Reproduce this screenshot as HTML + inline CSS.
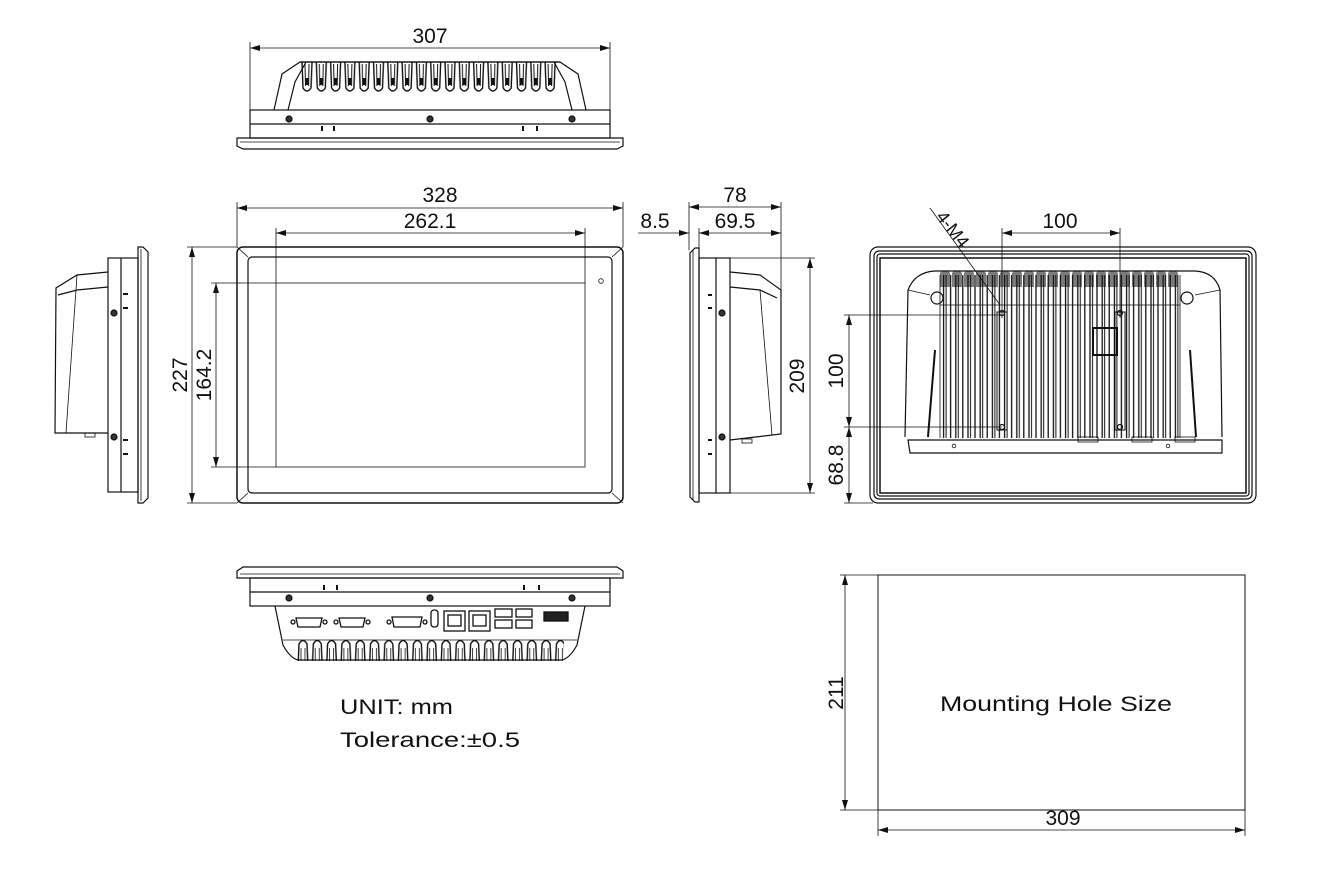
<!DOCTYPE html>
<html><head><meta charset="utf-8"><style>
html,body{margin:0;padding:0;background:#fff}
svg{display:block}
text{font-family:"Liberation Sans",sans-serif;fill:#111}
</style></head><body>
<svg width="1328" height="873" viewBox="0 0 1328 873" xmlns="http://www.w3.org/2000/svg">
<defs>
<marker id="a" viewBox="0 0 10 6" refX="10" refY="3" markerWidth="10" markerHeight="6" orient="auto-start-reverse" markerUnits="userSpaceOnUse"><path d="M0,0L10,3L0,6z" fill="#111"/></marker>
<pattern id="finT" x="300" y="62" width="14.3" height="40" patternUnits="userSpaceOnUse">
<path d="M2,0 L3,26 Q7,32 11,26 L12,0" fill="none" stroke="#111" stroke-width="1.4"/>
<path d="M5,2 L5.5,24 M9,2 L8.5,24" stroke="#111" stroke-width="1"/>
<rect x="5" y="16" width="4" height="7" fill="#111"/>
</pattern>
<pattern id="finB" x="296" y="628" width="14.3" height="40" patternUnits="userSpaceOnUse">
<path d="M2,40 L3,16 Q7,9 11,16 L12,40" fill="none" stroke="#111" stroke-width="1.4"/>
<path d="M5,20 L5,40 M9,20 L9,40" stroke="#111" stroke-width="0.8"/>
</pattern>
<pattern id="finR" x="905" y="0" width="12.2" height="10" patternUnits="userSpaceOnUse">
<line x1="2" y1="0" x2="2" y2="10" stroke="#111" stroke-width="1.3"/>
<line x1="4.5" y1="0" x2="4.5" y2="10" stroke="#111" stroke-width="1"/>
<line x1="9" y1="0" x2="9" y2="10" stroke="#111" stroke-width="1.3"/>
</pattern>
</defs>
<g fill="none" stroke="#111" stroke-width="1.2">
<!-- TOP VIEW -->
<line x1="250" y1="48" x2="610" y2="48" stroke-width="0.8" marker-start="url(#a)" marker-end="url(#a)"/>
<line x1="250" y1="42" x2="250" y2="110" stroke-width="0.8"/>
<line x1="610" y1="42" x2="610" y2="110" stroke-width="0.8"/>
<path d="M237,138 L623,138 L623,146 L617,149 L243,149 L237,146 Z"/>
<line x1="240" y1="142" x2="620" y2="142" stroke-width="0.8"/>
<rect x="250" y="110" width="360" height="28"/>
<line x1="250" y1="124" x2="610" y2="124"/>
<path d="M274,110 L282,74 L300,62 L560,62 L578,74 L586,110"/>
<path d="M288,110 L295,82 L306,62 M572,110 L565,82 L554,62"/>
<rect x="300" y="62" width="258" height="32" fill="url(#finT)" stroke="none"/>
<line x1="300" y1="62" x2="560" y2="62"/>
<g fill="#333"><circle cx="289" cy="119" r="3"/><circle cx="430" cy="119" r="3"/><circle cx="572" cy="119" r="3"/></g>
<path d="M322,126v5M334,126v5M523,126v5M537,126v5" stroke-width="2"/>

<!-- FRONT VIEW -->
<line x1="237" y1="208" x2="623" y2="208" stroke-width="0.8" marker-start="url(#a)" marker-end="url(#a)"/>
<line x1="237" y1="202" x2="237" y2="247" stroke-width="0.8"/>
<line x1="623" y1="202" x2="623" y2="247" stroke-width="0.8"/>
<line x1="276" y1="233" x2="585" y2="233" stroke-width="0.8" marker-start="url(#a)" marker-end="url(#a)"/>
<line x1="276" y1="228" x2="276" y2="283" stroke-width="0.8"/>
<line x1="585" y1="228" x2="585" y2="283" stroke-width="0.8"/>
<line x1="192" y1="247" x2="192" y2="503" stroke-width="0.8" marker-start="url(#a)" marker-end="url(#a)"/>
<line x1="187" y1="247" x2="237" y2="247" stroke-width="0.8"/>
<line x1="187" y1="503" x2="237" y2="503" stroke-width="0.8"/>
<line x1="216" y1="283" x2="216" y2="467" stroke-width="0.8" marker-start="url(#a)" marker-end="url(#a)"/>
<line x1="211" y1="283" x2="276" y2="283" stroke-width="0.8"/>
<line x1="211" y1="467" x2="276" y2="467" stroke-width="0.8"/>
<rect x="237" y="247" width="386" height="256" rx="6" stroke-width="1.5"/>
<rect x="248" y="257" width="364" height="236" rx="4"/>
<path d="M237,247L248,257M623,247L612,257M237,503L248,493M623,503L612,493" stroke-width="0.8"/>
<rect x="276" y="283" width="309" height="184" stroke-width="0.8"/>
<circle cx="601" cy="281" r="2.3" stroke-width="0.8"/>

<!-- LEFT SIDE VIEW -->
<path d="M138,247 L143,247 L148,252 L148,498 L143,503 L138,503 Z"/>
<line x1="141" y1="249" x2="141" y2="501" stroke-width="0.8"/>
<rect x="108" y="258" width="30" height="234"/>
<line x1="121" y1="258" x2="121" y2="492"/>
<path d="M108,272 L77,275 L56,288 L55,433 L108,433"/>
<path d="M108,287 L77,290 L58,295"/>
<line x1="77" y1="275" x2="66" y2="433" stroke-width="0.8"/>
<path d="M123,294h5M123,308h5M123,440h5M123,454h5" stroke-width="2"/>
<circle cx="114" cy="313" r="3" fill="#333"/><circle cx="114" cy="437" r="3" fill="#333"/>
<rect x="85" y="433" width="10" height="4" stroke-width="0.8"/>

<!-- RIGHT SIDE VIEW -->
<line x1="689" y1="207" x2="781" y2="207" stroke-width="0.8" marker-start="url(#a)" marker-end="url(#a)"/>
<line x1="689" y1="202" x2="689" y2="250" stroke-width="0.8"/>
<line x1="781" y1="202" x2="781" y2="295" stroke-width="0.8"/>
<line x1="699" y1="233" x2="781" y2="233" stroke-width="0.8" marker-start="url(#a)" marker-end="url(#a)"/>
<line x1="699" y1="228" x2="699" y2="250" stroke-width="0.8"/>
<line x1="638" y1="233" x2="689" y2="233" stroke-width="0.8" marker-end="url(#a)"/>
<line x1="810" y1="258" x2="810" y2="493" stroke-width="0.8" marker-start="url(#a)" marker-end="url(#a)"/>
<line x1="730" y1="258" x2="815" y2="258" stroke-width="0.8"/>
<line x1="730" y1="493" x2="815" y2="493" stroke-width="0.8"/>
<path d="M699,248 L695,248 L690,253 L690,497 L695,502 L699,502 Z"/>
<line x1="693" y1="250" x2="693" y2="500" stroke-width="0.8"/>
<rect x="699" y="258" width="31" height="235"/>
<line x1="716" y1="258" x2="716" y2="493"/>
<path d="M730,272 L760,275 L781,290 L781,434 L730,440"/>
<path d="M730,287 L760,290 L777,298"/>
<line x1="760" y1="290" x2="772" y2="435" stroke-width="0.8"/>
<path d="M708,295h4M708,308h4M708,440h4M708,454h4" stroke-width="2"/>
<circle cx="722" cy="313" r="3" fill="#333"/><circle cx="722" cy="437" r="3" fill="#333"/>
<rect x="742" y="439" width="10" height="4" stroke-width="0.8"/>

<!-- BACK VIEW -->
<rect x="870" y="247" width="386" height="256" rx="8"/>
<rect x="874" y="251" width="378" height="248" rx="5"/>
<rect x="877" y="254" width="372" height="242" rx="3"/>
<rect x="880" y="258" width="366" height="235" stroke-width="1.5"/>
<path d="M905,437 L908,290 Q915,272 935,271 L1195,271 Q1215,272 1220,290 L1222,437"/>
<path d="M908,440 L1222,440 L1222,453 L910,453 Z"/>
<rect x="940" y="275" width="240" height="163" fill="url(#finR)" stroke="none"/>
<path d="M940,275v163M1180,275v163M940,305h240" stroke-width="0.8"/>
<g fill="#111" stroke="none">
<path d="M940,273 l2,-2 h6 l2,2 v14 h-10z M952,273 l2,-2 h6 l2,2 v14 h-10z M964,273 l2,-2 h6 l2,2 v14 h-10z M976,273 l2,-2 h6 l2,2 v14 h-10z M988,273 l2,-2 h6 l2,2 v14 h-10z M1000,273 l2,-2 h6 l2,2 v14 h-10z M1012,273 l2,-2 h6 l2,2 v14 h-10z M1024,273 l2,-2 h6 l2,2 v14 h-10z M1036,273 l2,-2 h6 l2,2 v14 h-10z M1048,273 l2,-2 h6 l2,2 v14 h-10z M1060,273 l2,-2 h6 l2,2 v14 h-10z M1072,273 l2,-2 h6 l2,2 v14 h-10z M1084,273 l2,-2 h6 l2,2 v14 h-10z M1096,273 l2,-2 h6 l2,2 v14 h-10z M1108,273 l2,-2 h6 l2,2 v14 h-10z M1120,273 l2,-2 h6 l2,2 v14 h-10z M1132,273 l2,-2 h6 l2,2 v14 h-10z M1144,273 l2,-2 h6 l2,2 v14 h-10z M1156,273 l2,-2 h6 l2,2 v14 h-10z M1168,273 l2,-2 h6 l2,2 v14 h-10z" opacity="0.55"/>
</g>
<circle cx="937" cy="298" r="6"/><circle cx="1187" cy="298" r="6"/>
<path d="M908,290L930,295M1220,290L1195,295" stroke-width="0.8"/>
<path d="M935,350 L928,437 M1190,350 L1196,437" stroke-width="2"/>
<rect x="997" y="312" width="10" height="118" stroke-width="1"/>
<rect x="1115" y="312" width="10" height="118" stroke-width="1"/>
<rect x="1093" y="328" width="24" height="27" stroke-width="2"/>
<circle cx="1002" cy="313" r="2.5"/><circle cx="1120" cy="313" r="2.5"/>
<circle cx="1002" cy="427" r="2.5"/><circle cx="1120" cy="427" r="2.5"/>
<circle cx="954" cy="446" r="1.8" stroke-width="0.8"/><circle cx="1168" cy="446" r="1.8" stroke-width="0.8"/>
<rect x="1078" y="437" width="20" height="5" stroke-width="0.8"/>
<rect x="1132" y="437" width="20" height="5" stroke-width="0.8"/>
<rect x="1175" y="437" width="20" height="5" stroke-width="0.8"/>
<line x1="1002" y1="233" x2="1120" y2="233" stroke-width="0.8" marker-start="url(#a)" marker-end="url(#a)"/>
<line x1="1002" y1="228" x2="1002" y2="318" stroke-width="0.8"/>
<line x1="1120" y1="228" x2="1120" y2="318" stroke-width="0.8"/>
<line x1="849" y1="315" x2="849" y2="427" stroke-width="0.8" marker-start="url(#a)" marker-end="url(#a)"/>
<line x1="849" y1="427" x2="849" y2="503" stroke-width="0.8" marker-start="url(#a)" marker-end="url(#a)"/>
<line x1="844" y1="315" x2="1002" y2="315" stroke-width="0.8"/>
<line x1="844" y1="427" x2="1002" y2="427" stroke-width="0.8"/>
<line x1="844" y1="503" x2="873" y2="503" stroke-width="0.8"/>
<line x1="930" y1="208" x2="1000" y2="305" stroke-width="0.8"/>

<!-- BOTTOM VIEW -->
<path d="M237,578 L623,578 L623,571 L617,567 L243,567 L237,571 Z"/>
<line x1="240" y1="574" x2="620" y2="574" stroke-width="0.8"/>
<rect x="250" y="578" width="360" height="28"/>
<line x1="250" y1="592" x2="610" y2="592"/>
<g fill="#333"><circle cx="289" cy="598" r="3"/><circle cx="430" cy="598" r="3"/><circle cx="572" cy="598" r="3"/></g>
<path d="M324,585v5M337,585v5M524,585v5M539,585v5" stroke-width="2"/>
<path d="M275,606 L283,645 Q290,658 298,660 L562,660 Q570,658 577,645 L585,606"/>
<rect x="296" y="637" width="268" height="24" fill="url(#finB)" stroke="none"/>
<line x1="283" y1="640" x2="577" y2="640" stroke-width="0.8"/>
<g stroke-width="1.3">
<path d="M296,618h26l-2,9h-22z"/><circle cx="293" cy="622" r="2"/><circle cx="325" cy="622" r="2"/>
<path d="M339,618h26l-2,9h-22z"/><circle cx="336" cy="622" r="2"/><circle cx="368" cy="622" r="2"/>
<path d="M392,617h30l-2,10h-26z"/><circle cx="389" cy="622" r="2"/><circle cx="425" cy="622" r="2"/>
<rect x="431" y="610" width="7" height="17" rx="3"/>
<rect x="444" y="611" width="21" height="20"/><rect x="448" y="615" width="13" height="11"/>
<rect x="469" y="611" width="21" height="20"/><rect x="473" y="615" width="13" height="11"/>
<rect x="495" y="609" width="17" height="8"/><rect x="495" y="620" width="17" height="8"/>
<rect x="516" y="609" width="16" height="8"/><rect x="516" y="620" width="16" height="8"/>
<rect x="544" y="612" width="24" height="9" fill="#222"/>
</g>

<!-- MOUNTING HOLE -->
<rect x="878" y="575" width="367" height="235" stroke-width="1"/>
<line x1="845" y1="575" x2="845" y2="810" stroke-width="0.8" marker-start="url(#a)" marker-end="url(#a)"/>
<line x1="840" y1="575" x2="878" y2="575" stroke-width="0.8"/>
<line x1="840" y1="810" x2="878" y2="810" stroke-width="0.8"/>
<line x1="878" y1="830" x2="1245" y2="830" stroke-width="0.8" marker-start="url(#a)" marker-end="url(#a)"/>
<line x1="878" y1="810" x2="878" y2="836" stroke-width="0.8"/>
<line x1="1245" y1="810" x2="1245" y2="836" stroke-width="0.8"/>
</g>

<g font-size="21">
<text x="430" y="43" text-anchor="middle">307</text>
<text x="440" y="202" text-anchor="middle">328</text>
<text x="430" y="228" text-anchor="middle">262.1</text>
<text x="735" y="202" text-anchor="middle">78</text>
<text x="735" y="228" text-anchor="middle">69.5</text>
<text x="655" y="228" text-anchor="middle">8.5</text>
<text x="1060" y="228" text-anchor="middle">100</text>
<text x="1063" y="825" text-anchor="middle">309</text>
<text transform="translate(187,375) rotate(-90)" text-anchor="middle">227</text>
<text transform="translate(211,375) rotate(-90)" text-anchor="middle">164.2</text>
<text transform="translate(804,376) rotate(-90)" text-anchor="middle">209</text>
<text transform="translate(843,371) rotate(-90)" text-anchor="middle">100</text>
<text transform="translate(843,465) rotate(-90)" text-anchor="middle">68.8</text>
<text transform="translate(843,693) rotate(-90)" text-anchor="middle">211</text>
<text transform="translate(948,233) rotate(52)" text-anchor="middle" font-size="18">4-M4</text>
<text x="340" y="714" textLength="113" lengthAdjust="spacingAndGlyphs">UNIT: mm</text>
<text x="340" y="747" textLength="180" lengthAdjust="spacingAndGlyphs">Tolerance:±0.5</text>
<text x="940" y="711" textLength="232" lengthAdjust="spacingAndGlyphs">Mounting Hole Size</text>
</g>
</svg>
</body></html>
